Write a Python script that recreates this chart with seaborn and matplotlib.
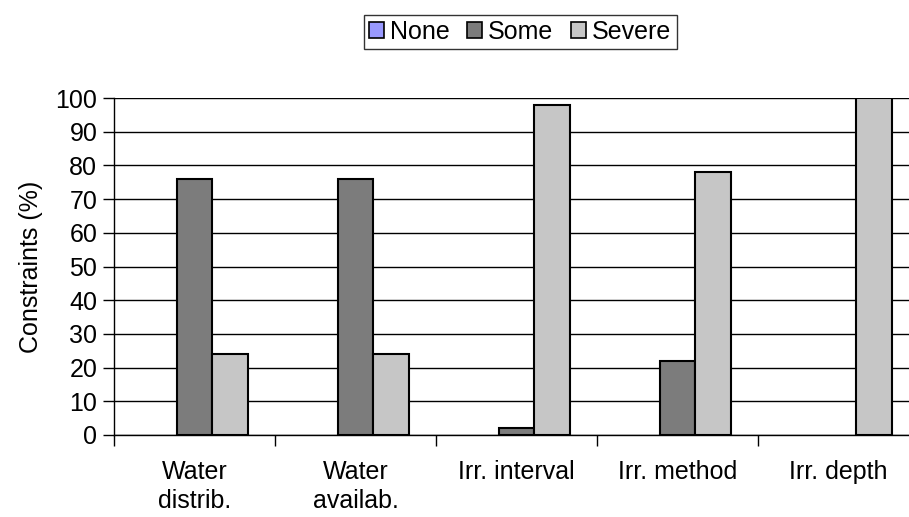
import matplotlib
matplotlib.use("Agg")
import matplotlib.pyplot as plt
import seaborn as sns
import pandas as pd
from matplotlib.ticker import FixedLocator
from matplotlib.patches import Patch

categories = ["Water\ndistrib.", "Water\navailab.", "Irr. interval", "Irr. method", "Irr. depth"]
series = ["None", "Some", "Severe"]
none_vals = [0, 0, 0, 0, 0]
some_vals = [76, 76, 2, 22, 0]
severe_vals = [24, 24, 98, 78, 100]
colors = ["#9999FF", "#7C7C7C", "#C6C6C6"]

rows = []
for s, vals in zip(series, [none_vals, some_vals, severe_vals]):
    for c, v in zip(categories, vals):
        rows.append({"Category": c, "Level": s, "Value": v})
df = pd.DataFrame(rows)

sns.set_theme(style="white")
plt.rcParams['font.family'] = ['Liberation Sans', 'DejaVu Sans']

fig = plt.figure(figsize=(9.09, 5.17), dpi=100)
ax = fig.add_axes([114/909, 82/517, 805/909, 337/517])

sns.barplot(data=df, x="Category", y="Value", hue="Level", order=categories,
            hue_order=series, palette=colors, width=0.67, edgecolor="black",
            linewidth=1.5, ax=ax, saturation=1, legend=False, zorder=3)

for p in ax.patches:
    if p.get_height() == 0:
        p.set_visible(False)

ax.set_ylim(0, 100)
ax.set_xlim(-0.5, 4.5)
ax.set_yticks(range(0, 101, 10))
ax.yaxis.grid(True, color="black", linewidth=1.0, zorder=0)
ax.set_axisbelow(True)
for sp in ["top", "right"]:
    ax.spines[sp].set_visible(False)
ax.spines["left"].set_color("black")
ax.spines["bottom"].set_color("black")
ax.spines["left"].set_linewidth(1.0)
ax.spines["bottom"].set_linewidth(1.0)

ax.tick_params(axis="y", left=True, length=8, width=1, color="black", labelsize=18, pad=4,
               labelcolor="black")
ax.tick_params(axis="x", which="major", bottom=False, length=0, labelsize=18, pad=18,
               labelcolor="black")
ax.xaxis.set_minor_locator(FixedLocator([-0.5 + i for i in range(6)]))
ax.tick_params(axis="x", which="minor", bottom=True, length=8, width=1, color="black")
for t in ax.get_xticklabels():
    t.set_linespacing(1.25)
ax.set_xlabel("")
ax.set_ylabel("Constraints (%)", fontsize=18, labelpad=9, color="black")

handles = [Patch(facecolor=c, edgecolor="black", linewidth=1.2, label=s) for s, c in zip(series, colors)]
leg = fig.legend(handles=handles, loc="center", bbox_to_anchor=(520/909, 1 - 32/517),
                 ncol=3, frameon=True, fancybox=False, edgecolor="black", fontsize=18,
                 handlelength=0.6, handleheight=0.6, handletextpad=0.25, columnspacing=0.7,
                 borderpad=0.2, borderaxespad=0)
leg.get_frame().set_linewidth(1.0)
for t in leg.get_texts():
    t.set_color("black")

fig.savefig("out.png", dpi=100)
